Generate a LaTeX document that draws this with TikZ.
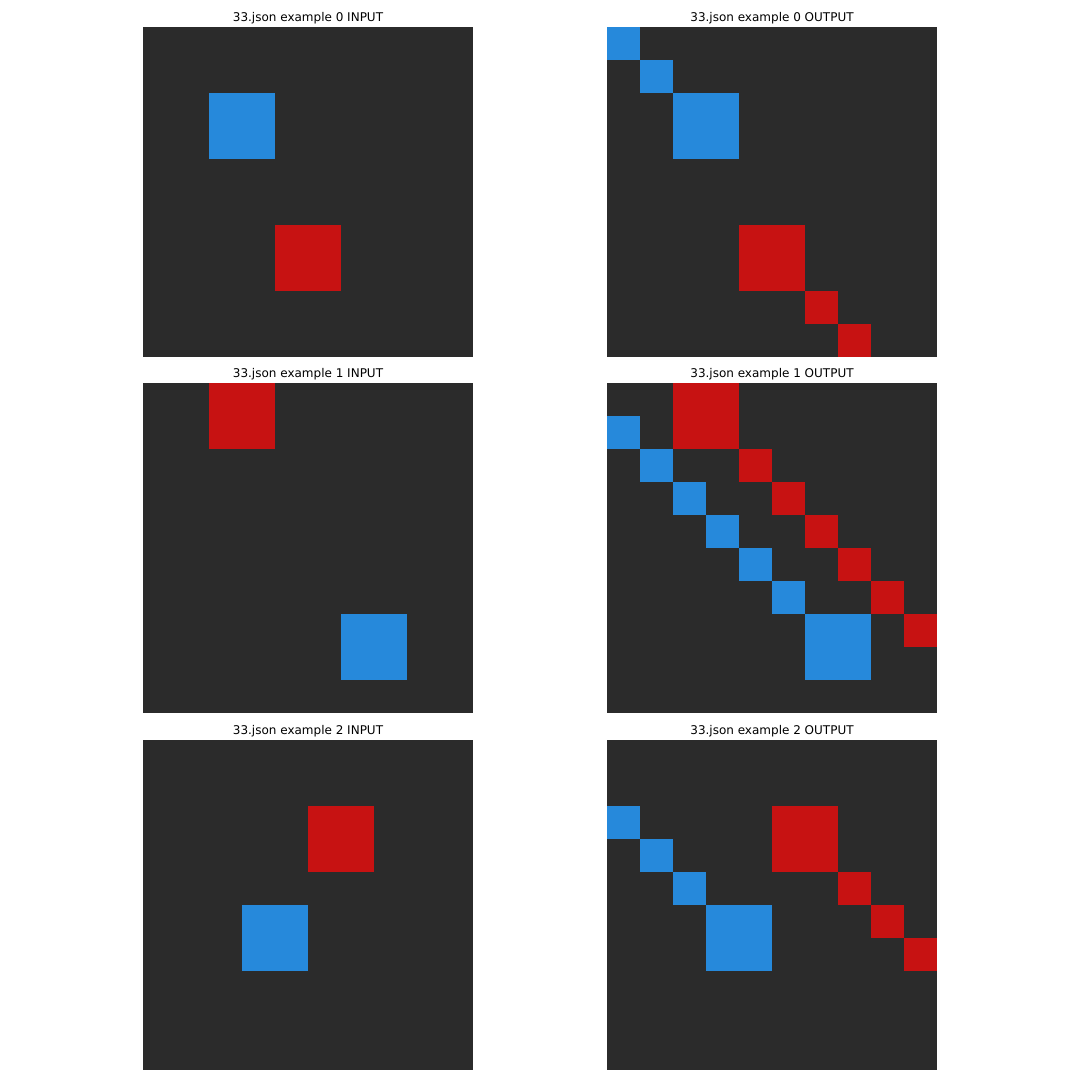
\documentclass[tikz,border=0pt]{standalone}
\usepackage{fontspec}
\setmainfont{DejaVu Sans}
\definecolor{fondo}{HTML}{2B2B2B}
\definecolor{azul}{HTML}{2689DB}
\definecolor{rojo}{HTML}{C71212}
\tikzset{
  titulo/.style={anchor=base, font=\fontsize{12}{14}\selectfont, inner sep=0pt},
  panel/.style={x=33pt, y=-33pt}
}
\begin{document}
\begin{tikzpicture}[x=1pt, y=-1pt]
    \useasboundingbox[fill=white] (0,0) rectangle (1080,1080);

    % Titulos
    \node[titulo] (t0i) at (308,21) {33.json example 0 INPUT};
    \node[titulo] (t0o) at (772,21) {33.json example 0 OUTPUT};
    \node[titulo] (t1i) at (308,377) {33.json example 1 INPUT};
    \node[titulo] (t1o) at (772,377) {33.json example 1 OUTPUT};
    \node[titulo] (t2i) at (308,734) {33.json example 2 INPUT};
    \node[titulo] (t2o) at (772,734) {33.json example 2 OUTPUT};

    % Ejemplo 0, entrada
    \begin{scope}[panel, shift={(143pt,-27pt)}]
    \fill[fondo] (0,0) rectangle (10,10);
    \fill[azul] (2,2) rectangle (4,4);
    \fill[rojo] (4,6) rectangle (6,8);
    \end{scope}

    % Ejemplo 0, salida
    \begin{scope}[panel, shift={(607pt,-27pt)}]
    \fill[fondo] (0,0) rectangle (10,10);
    \fill[azul] (0,0) rectangle (1,1);
    \fill[azul] (1,1) rectangle (2,2);
    \fill[azul] (2,2) rectangle (4,4);
    \fill[rojo] (4,6) rectangle (6,8);
    \fill[rojo] (6,8) rectangle (7,9);
    \fill[rojo] (7,9) rectangle (8,10);
    \end{scope}

    % Ejemplo 1, entrada
    \begin{scope}[panel, shift={(143pt,-383pt)}]
    \fill[fondo] (0,0) rectangle (10,10);
    \fill[rojo] (2,0) rectangle (4,2);
    \fill[azul] (6,7) rectangle (8,9);
    \end{scope}

    % Ejemplo 1, salida
    \begin{scope}[panel, shift={(607pt,-383pt)}]
    \fill[fondo] (0,0) rectangle (10,10);
    \fill[rojo] (2,0) rectangle (4,2);
    \foreach \k in {0,...,5}
      \fill[rojo] (4+\k,2+\k) rectangle (5+\k,3+\k);
    \foreach \k in {0,...,5}
      \fill[azul] (\k,1+\k) rectangle (1+\k,2+\k);
    \fill[azul] (6,7) rectangle (8,9);
    \end{scope}

    % Ejemplo 2, entrada
    \begin{scope}[panel, shift={(143pt,-740pt)}]
    \fill[fondo] (0,0) rectangle (10,10);
    \fill[rojo] (5,2) rectangle (7,4);
    \fill[azul] (3,5) rectangle (5,7);
    \end{scope}

    % Ejemplo 2, salida
    \begin{scope}[panel, shift={(607pt,-740pt)}]
    \fill[fondo] (0,0) rectangle (10,10);
    \fill[rojo] (5,2) rectangle (7,4);
    \foreach \k in {0,1,2}
      \fill[rojo] (7+\k,4+\k) rectangle (8+\k,5+\k);
    \foreach \k in {0,1,2}
      \fill[azul] (\k,2+\k) rectangle (1+\k,3+\k);
    \fill[azul] (3,5) rectangle (5,7);
    \end{scope}
\end{tikzpicture}
\end{document}
